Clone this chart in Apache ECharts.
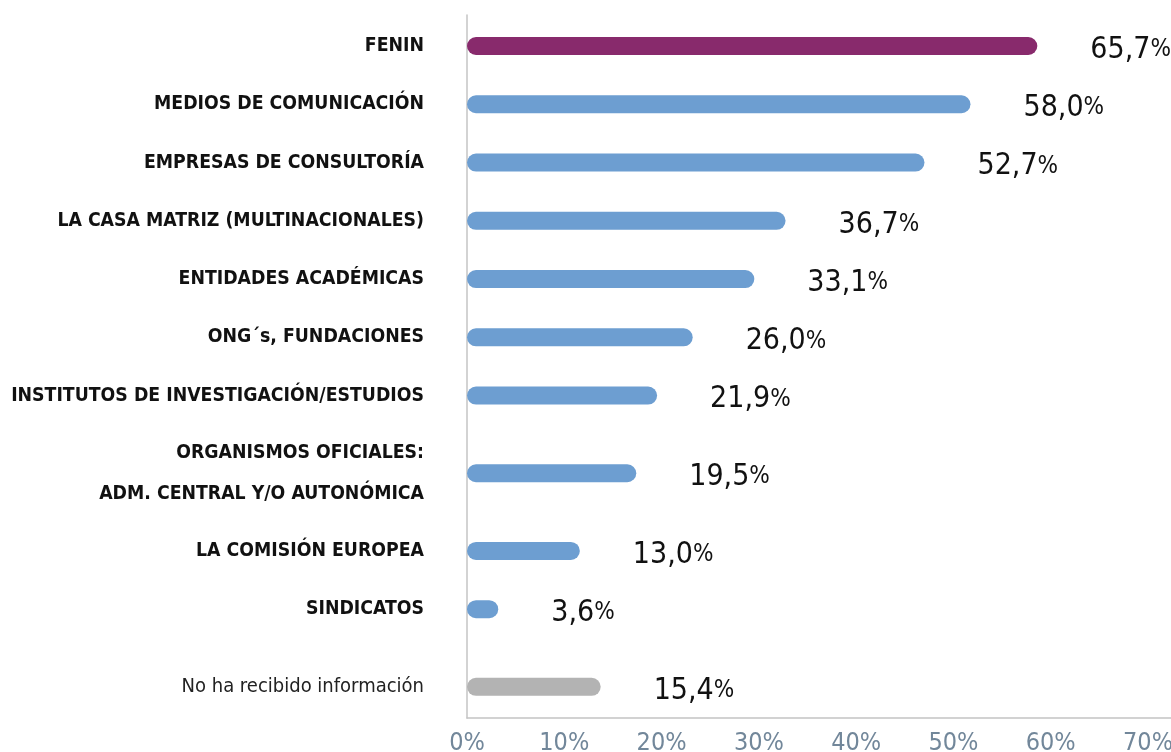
<!DOCTYPE html>
<html>
<head>
<meta charset="utf-8">
<script src="https://cdn.jsdelivr.net/npm/echarts@6/dist/echarts.min.js"></script>
<style>
  html, body { margin: 0; padding: 0; background: #fff; }
  #main { width: 1171px; height: 752px; }
</style>
</head>
<body>
<div id="main"></div>
<script>
// datos
var categories = [
  'FENIN',
  'MEDIOS DE COMUNICACIÓN',
  'EMPRESAS DE CONSULTORÍA',
  'LA CASA MATRIZ (MULTINACIONALES)',
  'ENTIDADES ACADÉMICAS',
  'ONG´s, FUNDACIONES',
  'INSTITUTOS DE INVESTIGACIÓN/ESTUDIOS',
  'ORGANISMOS OFICIALES:\nADM. CENTRAL Y/O AUTONÓMICA',
  'LA COMISIÓN EUROPEA',
  'SINDICATOS',
  'No ha recibido información'
]
var values = [65.7, 58.0, 52.7, 36.7, 33.1, 26.0, 21.9, 19.5, 13.0, 3.6, 15.4]
var xTickLabels = ['0%', '10%', '20%', '30%', '40%', '50%', '60%', '70%']

// layout: separacion entre filas (en huecos)
var rowGap = [3, 3, 3, 3, 3, 3, 4, 4, 3, 4]
var FONT = '"Liberation Sans Narrow", "DejaVu Sans Condensed", sans-serif'

var slots = [0]
rowGap.forEach(function (g) { slots.push(slots[slots.length - 1] + g) })
var nSlots = slots[slots.length - 1] + 1
var slotKeys = []
for (var i = 0; i < nSlots; i++) slotKeys.push('s' + i)

var labelOf = {}
categories.forEach(function (c, i) { labelOf['s' + slots[i]] = i })

function barColor(i) {
  if (i === 0) return '#882A6C'
  if (i === categories.length - 1) return '#B3B3B3'
  return '#6D9ED1'
}

var barData = values.map(function (v, i) {
  return { value: [v, slots[i]], itemStyle: { color: barColor(i) } }
})

var rowPx = 19.42
var myChart = echarts.init(document.getElementById('main'))
myChart.setOption({
  animation: false,
  grid: [
    { left: 467, right: 0, top: 15, bottom: 34, outerBoundsMode: 'none', containLabel: false },
    { left: 467, right: 0, top: 46 - rowPx / 2, height: rowPx * nSlots, outerBoundsMode: 'none', containLabel: false }
  ],
  xAxis: [{
    gridIndex: 0,
    type: 'value',
    min: 0,
    max: 72.36,
    interval: 10,
    axisLine: { show: true, lineStyle: { color: '#C4C4C4', width: 1.5 } },
    axisTick: { show: false },
    splitLine: { show: false },
    axisLabel: {
      showMaxLabel: false,
      margin: 13,
      color: '#72879A',
      fontFamily: FONT,
      fontSize: 25,
      formatter: function (v) { return xTickLabels[Math.round(v / 10)] || '' }
    }
  }, {
    gridIndex: 1,
    type: 'value',
    min: 0,
    max: 81.1,
    show: false
  }],
  yAxis: [{
    gridIndex: 0,
    type: 'value',
    min: 0,
    max: 1,
    axisLine: { show: true, lineStyle: { color: '#C4C4C4', width: 1.5 } },
    axisTick: { show: false },
    axisLabel: { show: false },
    splitLine: { show: false }
  }, {
    gridIndex: 1,
    type: 'category',
    inverse: true,
    data: slotKeys,
    axisLine: { show: false },
    axisTick: { show: false },
    splitLine: { show: false },
    axisLabel: {
      interval: 0,
      margin: 43,
      formatter: function (k) {
        var i = labelOf[k]
        if (i === undefined) return ''
        var st = i === categories.length - 1 ? 'n' : 'b'
        return categories[i].split('\n').map(function (l) {
          return '{' + st + '|' + l + '}'
        }).join('\n')
      },
      rich: {
        b: { fontFamily: FONT, fontWeight: 'bold', fontSize: 19.3, color: '#111', lineHeight: 41 },
        n: { fontFamily: FONT, fontSize: 20, color: '#222' }
      }
    }
  }],
  series: [{
    type: 'bar',
    xAxisIndex: 1,
    yAxisIndex: 1,
    barWidth: 18,
    itemStyle: { borderRadius: 9 },
    data: barData,
    label: {
      show: true,
      position: 'right',
      distance: 53,
      offset: [0, 4],
      formatter: function (p) {
        return '{n|' + p.value[0].toFixed(1).replace('.', ',') + '}{p|%}'
      },
      rich: {
        n: { fontFamily: FONT, fontSize: 30, color: '#111' },
        p: { fontFamily: FONT, fontSize: 24, color: '#111' }
      }
    }
  }]
})
</script>
</body>
</html>
